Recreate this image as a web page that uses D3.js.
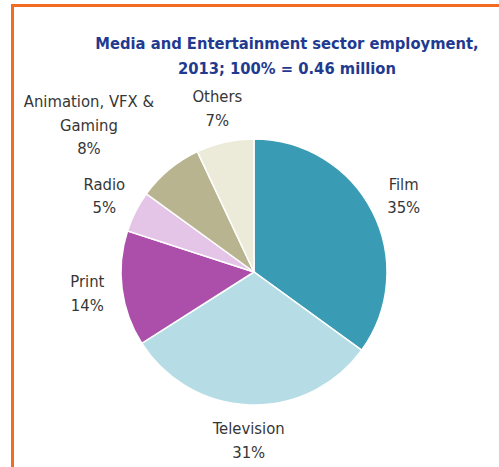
<!DOCTYPE html>
<html lang="en">
<head>
    <meta charset="UTF-8">
    <title>Media and Entertainment sector employment</title>
    <script src="https://d3js.org/d3.v7.min.js"></script>
    <style>
        body {
            margin: 0;
            background: #ffffff;
        }
        svg {
            display: block;
        }
        .title {
            font-family: "DejaVu Sans", sans-serif;
            font-stretch: condensed;
            font-weight: bold;
            font-size: 16.4px;
            fill: #1f3a8f;
        }
        .slice-label {
            font-family: "DejaVu Sans", sans-serif;
            font-stretch: condensed;
            font-size: 16.5px;
            fill: #363636;
        }
    </style>
</head>
<body>
    <svg width="499" height="467"></svg>
    <script>
        // Data (clockwise from 12 o'clock)
        const sectors = ["Film", "Television", "Print", "Radio", "Animation, VFX & Gaming", "Others"];
        const shares = [35, 31, 14, 5, 8, 7];
        const sectorLines = [["Film"], ["Television"], ["Print"], ["Radio"], ["Animation, VFX &", "Gaming"], ["Others"]];
        const titleLines = ["Media and Entertainment sector employment,", "2013; 100% = 0.46 million"];

        const colors = d3.scaleOrdinal()
            .domain(sectors)
            .range(["#3a9cb4", "#b6dde5", "#ab4faa", "#e4c5e7", "#b8b48f", "#ecead9"]);

        const width = 499,
              height = 467,
              cx = 254,
              cy = 272,
              radius = 133;

        const svg = d3.select("svg");

        // orange frame on the top and left edges
        svg.append("rect")
           .attr("x", 11).attr("y", 4)
           .attr("width", width - 11).attr("height", 3)
           .attr("fill", "#f26b21");
        svg.append("rect")
           .attr("x", 11).attr("y", 4)
           .attr("width", 3).attr("height", height - 4)
           .attr("fill", "#f26b21");

        // title
        svg.append("text")
           .attr("class", "title")
           .attr("text-anchor", "middle")
           .selectAll("tspan")
           .data(titleLines)
           .enter().append("tspan")
           .attr("x", 287)
           .attr("y", (d, i) => 49 + i * 25)
           .text(d => d);

        const pie = d3.pie()
            .sort(null)
            .value(d => d.value);

        const chartData = sectors.map((name, i) => ({name, value: shares[i], lines: sectorLines[i]}));
        const arcs = pie(chartData);

        const arc = d3.arc()
            .innerRadius(0)
            .outerRadius(radius);

        const labelArc = d3.arc()
            .innerRadius(168)
            .outerRadius(168);

        const g = svg.append("g")
            .attr("transform", `translate(${cx},${cy})`);

        g.selectAll("path")
         .data(arcs)
         .enter().append("path")
         .attr("d", arc)
         .attr("fill", d => colors(d.data.name))
         .attr("stroke", "#ffffff")
         .attr("stroke-width", 1.5);

        // the three-line label sits further out to the upper left
        const nudge = {"Animation, VFX & Gaming": [-58, -18]};
        const lineHeight = 23.5;

        g.selectAll(".slice-label")
         .data(arcs)
         .enter().append("text")
         .attr("class", "slice-label")
         .attr("text-anchor", "middle")
         .each(function(d) {
             const [lx, ly] = labelArc.centroid(d);
             const [nx, ny] = nudge[d.data.name] || [0, 0];
             const lines = d.data.lines.concat([d.data.value + "%"]);
             const top = ly + ny - (lines.length - 1) * lineHeight / 2 + 6;
             d3.select(this).selectAll("tspan")
               .data(lines)
               .enter().append("tspan")
               .attr("x", lx + nx)
               .attr("y", (t, i) => top + i * lineHeight)
               .text(t => t);
         });
    </script>
</body>
</html>
